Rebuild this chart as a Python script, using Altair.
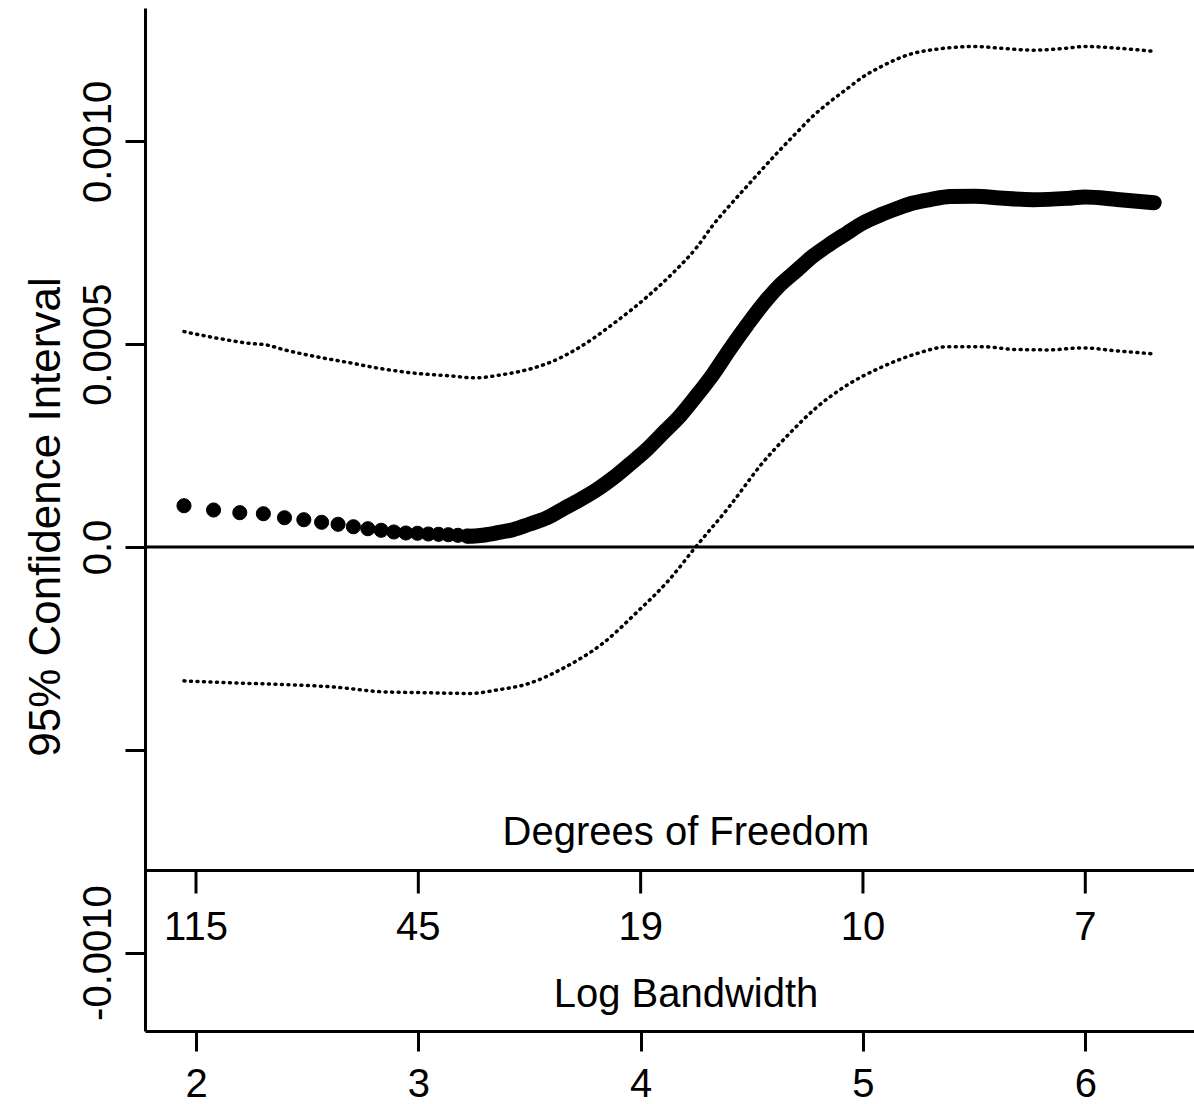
import altair as alt
import pandas as pd

SCALE = 1e-4  # values below are in units of 1e-4

# Point estimates, sparse part (one dot per bandwidth 7..25), x = log bandwidth
dot_logbw = [1.946, 2.079, 2.197, 2.303, 2.398, 2.485, 2.565, 2.639, 2.708, 2.773,
             2.833, 2.890, 2.944, 2.996, 3.045, 3.091, 3.135, 3.178, 3.219]
dot_est = [1.018, 0.912, 0.846, 0.821, 0.722, 0.673, 0.609, 0.560, 0.500, 0.451,
           0.412, 0.370, 0.345, 0.338, 0.321, 0.313, 0.303, 0.288, 0.271]

# Point estimates, dense part (dots merge into a thick band)
dense_logbw = [3.224, 3.278, 3.350, 3.426, 3.502, 3.579, 3.651, 3.727, 3.804, 3.876,
               3.952, 4.029, 4.101, 4.177, 4.254, 4.326, 4.402, 4.479, 4.551, 4.627,
               4.704, 4.776, 4.852, 4.929, 5.000, 5.077, 5.153, 5.225, 5.302, 5.392,
               5.504, 5.617, 5.765, 5.918, 5.999, 6.143, 6.310]
dense_est = [0.264, 0.284, 0.345, 0.427, 0.567, 0.720, 0.937, 1.166, 1.418, 1.701,
             2.046, 2.409, 2.811, 3.230, 3.748, 4.265, 4.882, 5.473, 5.991, 6.460,
             6.829, 7.175, 7.470, 7.742, 7.988, 8.185, 8.346, 8.481, 8.567, 8.642,
             8.650, 8.605, 8.563, 8.595, 8.629, 8.570, 8.489]

# Upper 95% bound
upper_logbw = [1.946, 2.093, 2.243, 2.318, 2.391, 2.543, 2.693, 2.841, 2.993, 3.143,
               3.255, 3.368, 3.516, 3.592, 3.727, 3.876, 4.029, 4.146, 4.254, 4.326,
               4.402, 4.479, 4.551, 4.627, 4.704, 4.776, 4.852, 4.929, 5.000, 5.077,
               5.153, 5.225, 5.302, 5.414, 5.504, 5.617, 5.765, 5.918, 5.999, 6.143,
               6.310]
upper_val = [5.31, 5.15, 5.02, 4.98, 4.87, 4.69, 4.54, 4.39, 4.28, 4.22,
             4.17, 4.24, 4.41, 4.55, 4.93, 5.50, 6.17, 6.76, 7.40, 7.94,
             8.43, 8.90, 9.34, 9.79, 10.23, 10.63, 10.98, 11.30, 11.59, 11.83,
             12.03, 12.17, 12.25, 12.32, 12.34, 12.30, 12.25, 12.30, 12.34, 12.30,
             12.22]

# Lower 95% bound
lower_logbw = [1.946, 2.166, 2.391, 2.616, 2.841, 3.008, 3.233, 3.350, 3.500, 3.651,
               3.831, 3.979, 4.128, 4.249, 4.398, 4.548, 4.668, 4.789, 4.937, 5.086,
               5.237, 5.387, 5.536, 5.686, 5.837, 5.986, 6.134, 6.310]
lower_val = [-3.30, -3.35, -3.39, -3.45, -3.57, -3.59, -3.61, -3.53, -3.36, -2.99,
             -2.37, -1.63, -0.81, 0.01, 0.99, 2.07, 2.79, 3.43, 4.02, 4.44,
             4.76, 4.94, 4.94, 4.87, 4.86, 4.91, 4.84, 4.76]

# Degrees-of-freedom secondary axis
dof_positions = [2, 3, 4, 5, 6]
dof_labels = ["115", "45", "19", "10", "7"]

# Axis ticks
x_ticks = [2, 3, 4, 5, 6]
y_ticks = [-0.001, -0.0005, 0.0, 0.0005, 0.001]
y_tick_labels = ["-0.0010", "", "0.0", "0.0005", "0.0010"]

FONT = "Liberation Sans"
W, H = 1049, 1023

label_expr = " : ".join(
    f"abs(datum.value - ({v})) < 1e-9 ? '{l}'" for v, l in zip(y_ticks, y_tick_labels)
) + " : ''"

X = alt.X("x:Q",
          scale=alt.Scale(domain=[1.7706, 6.489], nice=False, zero=False),
          axis=alt.Axis(values=x_ticks, format="d", title=None, grid=False,
                        tickSize=20, tickWidth=3, domainWidth=3,
                        domainColor="black", tickColor="black", labelColor="black",
                        labelFont=FONT, labelFontSize=40, labelPadding=45,
                        labelBaseline="alphabetic", labelFlush=False, labelOverlap=False))
Y = alt.Y("y:Q",
          scale=alt.Scale(domain=[-0.0011933, 0.0013289], nice=False, zero=False),
          axis=alt.Axis(values=y_ticks, labelExpr=label_expr, title=None, grid=False,
                        tickSize=20, tickWidth=3, domainWidth=3,
                        domainColor="black", tickColor="black", labelColor="black",
                        labelFont=FONT, labelFontSize=40, labelAngle=270,
                        labelAlign="center", labelBaseline="alphabetic",
                        labelPadding=15, labelFlush=False, labelOverlap=False,
                        labelBound=False))

dots_df = pd.DataFrame({"x": dot_logbw, "y": [v * SCALE for v in dot_est]})
dense_df = pd.DataFrame({"x": dense_logbw, "y": [v * SCALE for v in dense_est]})
ci_df = pd.concat([
    pd.DataFrame({"x": upper_logbw, "y": [v * SCALE for v in upper_val], "s": "upper"}),
    pd.DataFrame({"x": lower_logbw, "y": [v * SCALE for v in lower_val], "s": "lower"}),
])
dof_df = pd.DataFrame({"x": dof_positions, "label": dof_labels})
zero_df = pd.DataFrame({"y": [0.0]})

zero_line = alt.Chart(zero_df).mark_rule(color="black", strokeWidth=3).encode(y=Y)

dof_line = alt.Chart(zero_df).mark_rule(color="black", strokeWidth=3).encode(
    x=alt.value(0), x2=alt.value(W), y=alt.value(862.5))
dof_ticks = alt.Chart(dof_df).mark_rule(color="black", strokeWidth=3).encode(
    x=X, y=alt.value(862.5), y2=alt.value(885.5))
dof_text = alt.Chart(dof_df).mark_text(
    font=FONT, fontSize=40, baseline="alphabetic", align="center", color="black"
).encode(x=X, y=alt.value(932), text="label:N")

dof_title = alt.Chart(pd.DataFrame({"t": ["Degrees of Freedom"]})).mark_text(
    font=FONT, fontSize=40, baseline="alphabetic", align="center", color="black"
).encode(x=alt.value(541), y=alt.value(837), text="t:N")
lb_title = alt.Chart(pd.DataFrame({"t": ["Log Bandwidth"]})).mark_text(
    font=FONT, fontSize=40, baseline="alphabetic", align="center", color="black"
).encode(x=alt.value(541), y=alt.value(999), text="t:N")
y_title = alt.Chart(pd.DataFrame({"t": ["95% Confidence Interval"]})).mark_text(
    font=FONT, fontSize=44, baseline="alphabetic", align="center", angle=270, color="black"
).encode(x=alt.value(-85), y=alt.value(509), text="t:N")

ci_lines = alt.Chart(ci_df).mark_line(
    color="black", strokeWidth=3.5, strokeDash=[1, 5.5], strokeCap="round",
    interpolate="monotone"
).encode(x=X, y=Y, detail="s:N")

dense_line = alt.Chart(dense_df).mark_line(
    color="black", strokeWidth=15, strokeCap="round", strokeJoin="round",
    interpolate="monotone"
).encode(x=X, y=Y)

dots = alt.Chart(dots_df).mark_point(
    shape="circle", filled=True, color="black", size=200, opacity=1,
    stroke="black", strokeWidth=1
).encode(x=X, y=Y)

chart = alt.layer(
    zero_line, dof_line, dof_ticks, dof_text, dof_title, lb_title, y_title,
    ci_lines, dense_line, dots
).properties(
    width=W, height=H,
    padding={"left": 145, "top": 8, "right": 0, "bottom": 73},
    autosize=alt.AutoSizeParams(type="none"),
    background="white",
).configure_view(stroke=None)

chart.save("out.html", embed_options={"renderer": "svg", "actions": False})
